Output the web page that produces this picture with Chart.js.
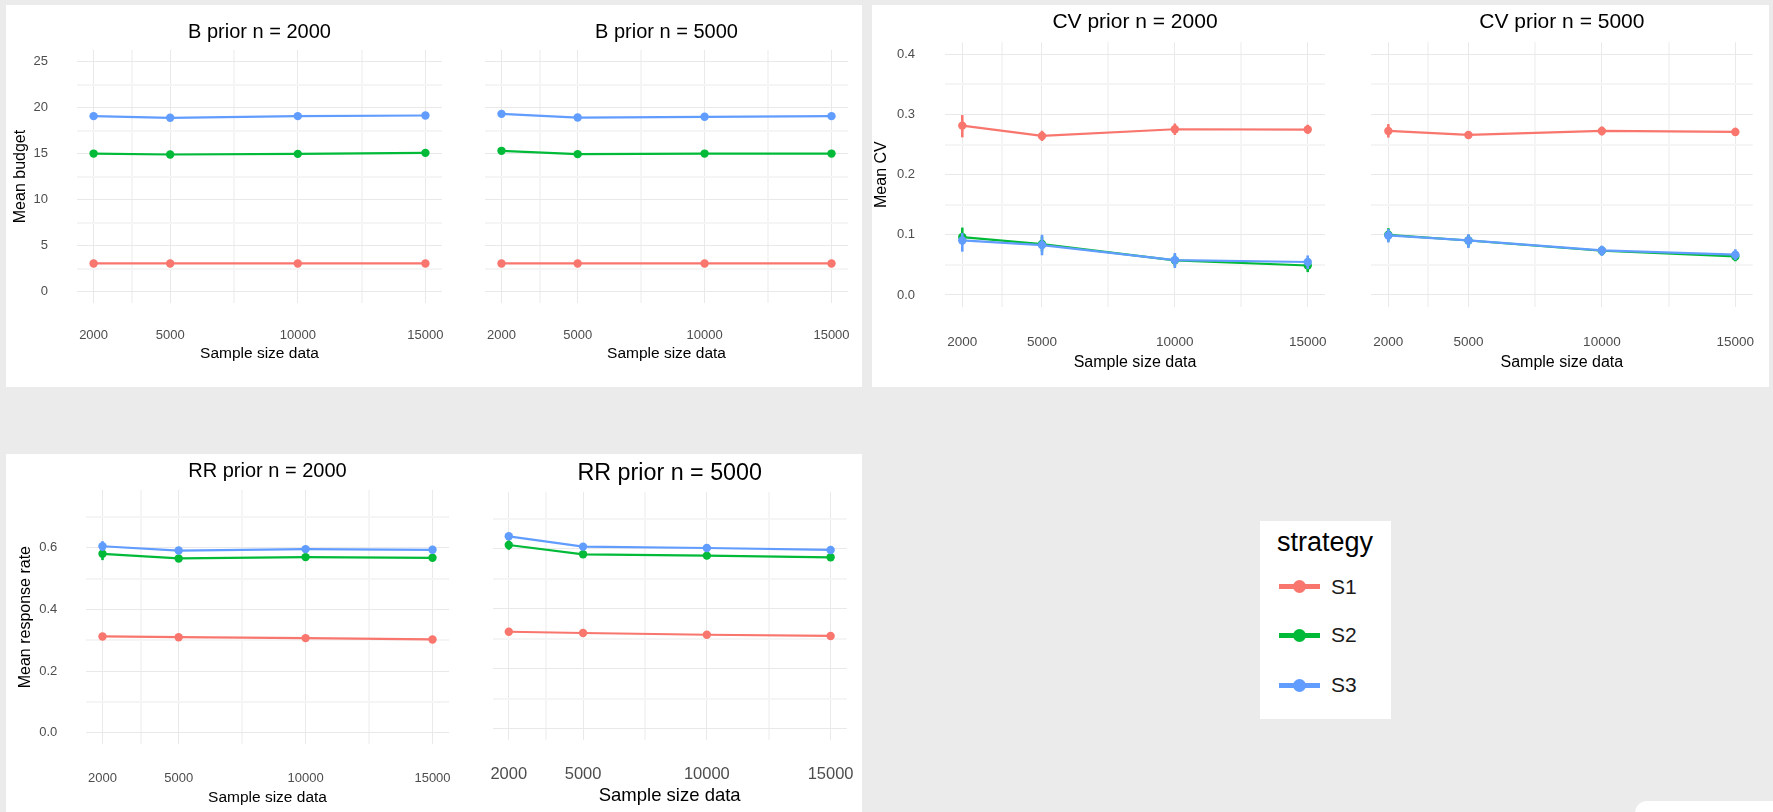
<!DOCTYPE html>
<html>
<head>
<meta charset="utf-8">
<script src="https://cdn.jsdelivr.net/npm/chart.js@4/dist/chart.umd.min.js"></script>
<style>
  html, body { margin: 0; padding: 0; }
  body { width: 1773px; height: 812px; background: #EBEBEB; position: relative; overflow: hidden;
         font-family: "Liberation Sans", Arial, sans-serif; }
  .sheet { position: absolute; background: #FFFFFF; }
  canvas { position: absolute; }
  #legend { position: absolute; left: 1260px; top: 521px; width: 131px; height: 198px; background: #FFFFFF; }
  #legend .ttl { position: absolute; left: 17px; color: #000; white-space: nowrap; }
  #legend .lab { position: absolute; left: 71px; color: #1A1A1A; white-space: nowrap; }
  #legend .line { position: absolute; left: 19px; width: 41px; height: 5px; }
  #legend .dot { position: absolute; width: 13px; height: 13px; border-radius: 50%; }
  #corner { position: absolute; left: 1635px; top: 801px; width: 150px; height: 30px; background: #FFFFFF; border-top-left-radius: 12px; }
</style>
</head>
<body>
<div class="sheet" style="left:6px; top:5px; width:856px; height:382px;"></div>
<div class="sheet" style="left:872px; top:5px; width:897px; height:382px;"></div>
<div class="sheet" style="left:6px; top:454px; width:856px; height:358px;"></div>
<div id="corner"></div>
<div id="legend"></div>

<canvas id="budget2000"></canvas>
<canvas id="budget5000"></canvas>
<canvas id="cv2000"></canvas>
<canvas id="cv5000"></canvas>
<canvas id="rr2000"></canvas>
<canvas id="rr5000"></canvas>

<script>
// ---- data --------------------------------------------------------------
const sampleSizes = [2000, 5000, 10000, 15000];
const sampleMinor = [3500, 7500, 12500];
const strategies = ['S1', 'S2', 'S3'];
const strategyColors = ['#F8766D', '#00BA38', '#619CFF'];

const budgetTicks = [0, 5, 10, 15, 20, 25];
const budgetMinor = [2.5, 7.5, 12.5, 17.5, 22.5];
const cvTicks = [0, 0.1, 0.2, 0.3, 0.4];
const cvMinor = [0.05, 0.15, 0.25, 0.35];
const rrTicks = [0, 0.2, 0.4, 0.6];
const rrMinor = [0.1, 0.3, 0.5, 0.7];

// mean budget per strategy (rows S1, S2, S3)
const budgetPrior2000 = [
  [3.05, 3.05, 3.05, 3.05],
  [14.99, 14.89, 14.96, 15.07],
  [19.06, 18.88, 19.06, 19.13]
];
const budgetPrior5000 = [
  [3.05, 3.05, 3.05, 3.05],
  [15.29, 14.93, 14.99, 14.99],
  [19.31, 18.91, 18.99, 19.06]
];

// mean CV with interval bounds
const cvPrior2000 = [
  [0.2815, 0.2644, 0.2755, 0.275],
  [0.0963, 0.0846, 0.0575, 0.049],
  [0.0906, 0.083, 0.058, 0.0548]
];
const cvPrior2000Low = [
  [0.262, 0.256, 0.266, 0.268],
  [0.084, 0.072, 0.048, 0.038],
  [0.072, 0.066, 0.0448, 0.0432]
];
const cvPrior2000High = [
  [0.299, 0.273, 0.285, 0.283],
  [0.112, 0.097, 0.067, 0.058],
  [0.103, 0.100, 0.0697, 0.0657]
];
const cvPrior5000 = [
  [0.2727, 0.266, 0.2727, 0.271],
  [0.1, 0.0905, 0.0735, 0.064],
  [0.099, 0.0906, 0.074, 0.0669]
];
const cvPrior5000Low = [
  [0.2616, 0.26, 0.265, 0.265],
  [0.089, 0.08, 0.066, 0.056],
  [0.0873, 0.078, 0.065, 0.058]
];
const cvPrior5000High = [
  [0.284, 0.272, 0.28, 0.278],
  [0.111, 0.1, 0.081, 0.072],
  [0.1095, 0.101, 0.082, 0.076]
];

// mean response rate with interval bounds (only the wide ones drawn)
const rrPrior2000 = [
  [0.3124, 0.31, 0.307, 0.3026],
  [0.5805, 0.5654, 0.5697, 0.5676],
  [0.605, 0.591, 0.5956, 0.5935]
];
const rrPrior2000Low = [
  [null, null, null, null],
  [0.56, null, null, null],
  [0.59, null, null, null]
];
const rrPrior2000High = [
  [null, null, null, null],
  [0.599, null, null, null],
  [0.6216, null, null, null]
];
const rrPrior5000 = [
  [0.323, 0.3188, 0.313, 0.309],
  [0.612, 0.581, 0.5765, 0.571],
  [0.641, 0.6066, 0.602, 0.5955]
];
const rrPrior5000Low = [
  [null, null, null, null],
  [0.596, null, null, null],
  [0.633, null, null, null]
];
const rrPrior5000High = [
  [null, null, null, null],
  [0.628, null, null, null],
  [0.649, null, null, null]
];

// ---- drawing helpers ---------------------------------------------------
Chart.defaults.font.family = '"Liberation Sans", Arial, sans-serif';

const GRID_MAJOR = '#E9E9E9';
const GRID_MINOR = '#F5F5F5';

// vertical interval bars drawn right after each series
const intervalBars = {
  id: 'intervalBars',
  afterDatasetDraw(chart, args) {
    const ds = chart.data.datasets[args.index];
    if (!ds.lowVals || !ds.highVals) return;
    const { ctx, scales: { x, y } } = chart;
    ctx.save();
    ctx.strokeStyle = ds.borderColor;
    ctx.lineWidth = 2.6;
    ds.data.forEach((p, i) => {
      const lo = ds.lowVals[i], hi = ds.highVals[i];
      if (lo == null || hi == null) return;
      const px = x.getPixelForValue(p.x);
      ctx.beginPath();
      ctx.moveTo(px, y.getPixelForValue(lo));
      ctx.lineTo(px, y.getPixelForValue(hi));
      ctx.stroke();
    });
    ctx.restore();
  }
};

function drawPanel(c) {
  const canvas = document.getElementById(c.id);
  canvas.width = c.box.w;
  canvas.height = c.box.h;
  canvas.style.left = c.box.x + 'px';
  canvas.style.top = c.box.y + 'px';

  const a = c.area;
  const titlePadTop = c.titleY - c.box.y - 0.6 * c.titleSize;
  const titlePadBottom = a.t - c.titleY - 0.6 * c.titleSize;
  const xAxisH = c.xTitleY - a.b + 0.6 * c.xTitleSize;
  const xGap = c.tickY - a.b - 0.6 * c.tickSize;
  const hasY = !!c.yTitle;
  const yAxisW = hasY ? (a.l - c.yTitleX + 0.6 * c.yTitleSize) : 0;
  const yGap = hasY ? (a.l - c.yLabelRight) : 0;

  const xAll = sampleSizes.concat(sampleMinor).sort((p, q) => p - q);
  const yAll = c.yMajor.concat(c.yMinor).sort((p, q) => p - q);

  const datasets = strategies.map((name, i) => ({
    label: name,
    data: sampleSizes.map((x, j) => ({ x, y: c.values[i][j] })),
    borderColor: strategyColors[i],
    backgroundColor: strategyColors[i],
    pointBackgroundColor: strategyColors[i],
    pointBorderWidth: 0,
    pointRadius: 4.2,
    borderWidth: 2.2,
    tension: 0,
    order: strategies.length - i,
    lowVals: c.low ? c.low[i] : null,
    highVals: c.high ? c.high[i] : null
  }));

  new Chart(canvas, {
    type: 'line',
    data: { datasets },
    plugins: [intervalBars],
    options: {
      responsive: false,
      animation: false,
      devicePixelRatio: 1,
      events: [],
      layout: {
        padding: {
          top: 0,
          left: a.l - yAxisW - c.box.x,
          right: c.box.x + c.box.w - a.r,
          bottom: c.box.y + c.box.h - a.b - xAxisH
        }
      },
      plugins: {
        legend: { display: false },
        tooltip: { enabled: false },
        title: {
          display: true,
          text: c.title,
          fullSize: false,
          color: '#000000',
          font: { size: c.titleSize, weight: 'normal' },
          padding: { top: titlePadTop, bottom: titlePadBottom }
        }
      },
      scales: {
        x: {
          type: 'linear',
          min: 1350,
          max: 15650,
          afterBuildTicks: s => { s.ticks = xAll.map(v => ({ value: v })); },
          afterFit: s => { s.height = xAxisH; },
          border: { display: false },
          grid: {
            drawTicks: true,
            tickLength: xGap,
            tickColor: 'rgba(0,0,0,0)',
            color: ctx => (ctx.tick && sampleSizes.includes(ctx.tick.value)) ? GRID_MAJOR : GRID_MINOR,
            lineWidth: ctx => (ctx.tick && sampleSizes.includes(ctx.tick.value)) ? 1 : 2
          },
          ticks: {
            autoSkip: false,
            maxRotation: 0,
            minRotation: 0,
            padding: 0,
            color: '#4D4D4D',
            font: { size: c.tickSize },
            callback: v => sampleSizes.includes(v) ? String(v) : ''
          },
          title: {
            display: true,
            text: 'Sample size data',
            color: '#000000',
            font: { size: c.xTitleSize },
            padding: { top: 0, bottom: 0 }
          }
        },
        y: {
          type: 'linear',
          min: c.yMin,
          max: c.yMax,
          afterBuildTicks: s => { s.ticks = yAll.map(v => ({ value: v })); },
          afterFit: s => { s.width = yAxisW; },
          border: { display: false },
          grid: {
            drawTicks: hasY,
            tickLength: yGap,
            tickColor: 'rgba(0,0,0,0)',
            color: ctx => (ctx.tick && c.yMajor.includes(ctx.tick.value)) ? GRID_MAJOR : GRID_MINOR,
            lineWidth: ctx => (ctx.tick && c.yMajor.includes(ctx.tick.value)) ? 1 : 2
          },
          ticks: {
            display: hasY,
            autoSkip: false,
            padding: 0,
            color: '#4D4D4D',
            font: { size: c.yTickSize || c.tickSize },
            callback: v => c.yMajor.includes(v) ? c.fmt(v) : ''
          },
          title: {
            display: hasY,
            text: c.yTitle || '',
            color: '#000000',
            font: { size: c.yTitleSize || 16 },
            padding: { top: 0, bottom: 0 }
          }
        }
      }
    }
  });
}

const fmtInt = v => String(v);
const fmtOne = v => v.toFixed(1);

drawPanel({
  id: 'budget2000', title: 'B prior n = 2000',
  box: { x: 6, y: 0, w: 470, h: 380 }, area: { l: 77, t: 50, r: 442, b: 303 },
  titleSize: 20, titleY: 32, tickSize: 13, tickY: 335.7, xTitleSize: 15.5, xTitleY: 354,
  yTitle: 'Mean budget', yTitleSize: 16, yTitleX: 21, yLabelRight: 48,
  yMin: -1.25, yMax: 26.25, yMajor: budgetTicks, yMinor: budgetMinor, fmt: fmtInt,
  values: budgetPrior2000
});
drawPanel({
  id: 'budget5000', title: 'B prior n = 5000',
  box: { x: 455, y: 0, w: 423, h: 380 }, area: { l: 485, t: 50, r: 848, b: 303 },
  titleSize: 20, titleY: 32, tickSize: 13, tickY: 335.7, xTitleSize: 15.5, xTitleY: 354,
  yMin: -1.25, yMax: 26.25, yMajor: budgetTicks, yMinor: budgetMinor, fmt: fmtInt,
  values: budgetPrior5000
});
drawPanel({
  id: 'cv2000', title: 'CV prior n = 2000',
  box: { x: 866, y: 0, w: 489, h: 385 }, area: { l: 945, t: 42.3, r: 1325, b: 307 },
  titleSize: 21, titleY: 22.3, tickSize: 13.5, yTickSize: 13, tickY: 342.7, xTitleSize: 16, xTitleY: 362.3,
  yTitle: 'Mean CV', yTitleSize: 16, yTitleX: 881.7, yLabelRight: 915,
  yMin: -0.02, yMax: 0.42, yMajor: cvTicks, yMinor: cvMinor, fmt: fmtOne,
  values: cvPrior2000, low: cvPrior2000Low, high: cvPrior2000High
});
drawPanel({
  id: 'cv5000', title: 'CV prior n = 5000',
  box: { x: 1341, y: 0, w: 432, h: 385 }, area: { l: 1371, t: 42.3, r: 1752.7, b: 307 },
  titleSize: 21, titleY: 22.3, tickSize: 13.5, tickY: 342.7, xTitleSize: 16, xTitleY: 362.3,
  yMin: -0.02, yMax: 0.42, yMajor: cvTicks, yMinor: cvMinor, fmt: fmtOne,
  values: cvPrior5000, low: cvPrior5000Low, high: cvPrior5000High
});
drawPanel({
  id: 'rr2000', title: 'RR prior n = 2000',
  box: { x: 6, y: 440, w: 463, h: 372 }, area: { l: 86, t: 490, r: 449, b: 744.3 },
  titleSize: 20, titleY: 471.7, tickSize: 13, tickY: 778.3, xTitleSize: 15.5, xTitleY: 797.3,
  yTitle: 'Mean response rate', yTitleSize: 16, yTitleX: 25.7, yLabelRight: 57.3,
  yMin: -0.0375, yMax: 0.7875, yMajor: rrTicks, yMinor: rrMinor, fmt: fmtOne,
  values: rrPrior2000, low: rrPrior2000Low, high: rrPrior2000High
});
drawPanel({
  id: 'rr5000', title: 'RR prior n = 5000',
  box: { x: 470, y: 440, w: 400, h: 372 }, area: { l: 492.7, t: 492.3, r: 846.7, b: 740 },
  titleSize: 23.3, titleY: 473.3, tickSize: 16.5, tickY: 774.3, xTitleSize: 18.5, xTitleY: 796,
  yMin: -0.0375, yMax: 0.7875, yMajor: rrTicks, yMinor: rrMinor, fmt: fmtOne,
  values: rrPrior5000, low: rrPrior5000Low, high: rrPrior5000High
});

// ---- shared legend -----------------------------------------------------
const legendEl = document.getElementById('legend');
const legendTitle = document.createElement('div');
legendTitle.className = 'ttl';
legendTitle.textContent = 'strategy';
legendTitle.style.fontSize = '27px';
legendTitle.style.lineHeight = '32px';
legendTitle.style.top = (20.7 - 16) + 'px';
legendEl.appendChild(legendTitle);

const legendRowY = [65.7, 114, 164];
strategies.forEach((name, i) => {
  const cy = legendRowY[i];
  const line = document.createElement('div');
  line.className = 'line';
  line.style.background = strategyColors[i];
  line.style.top = (cy - 2.5) + 'px';
  const dot = document.createElement('div');
  dot.className = 'dot';
  dot.style.background = strategyColors[i];
  dot.style.left = (39.7 - 6.5) + 'px';
  dot.style.top = (cy - 6.5) + 'px';
  const lab = document.createElement('div');
  lab.className = 'lab';
  lab.textContent = name;
  lab.style.fontSize = '21px';
  lab.style.lineHeight = '24px';
  lab.style.top = (cy - 12) + 'px';
  legendEl.appendChild(line);
  legendEl.appendChild(dot);
  legendEl.appendChild(lab);
});
</script>
</body>
</html>
